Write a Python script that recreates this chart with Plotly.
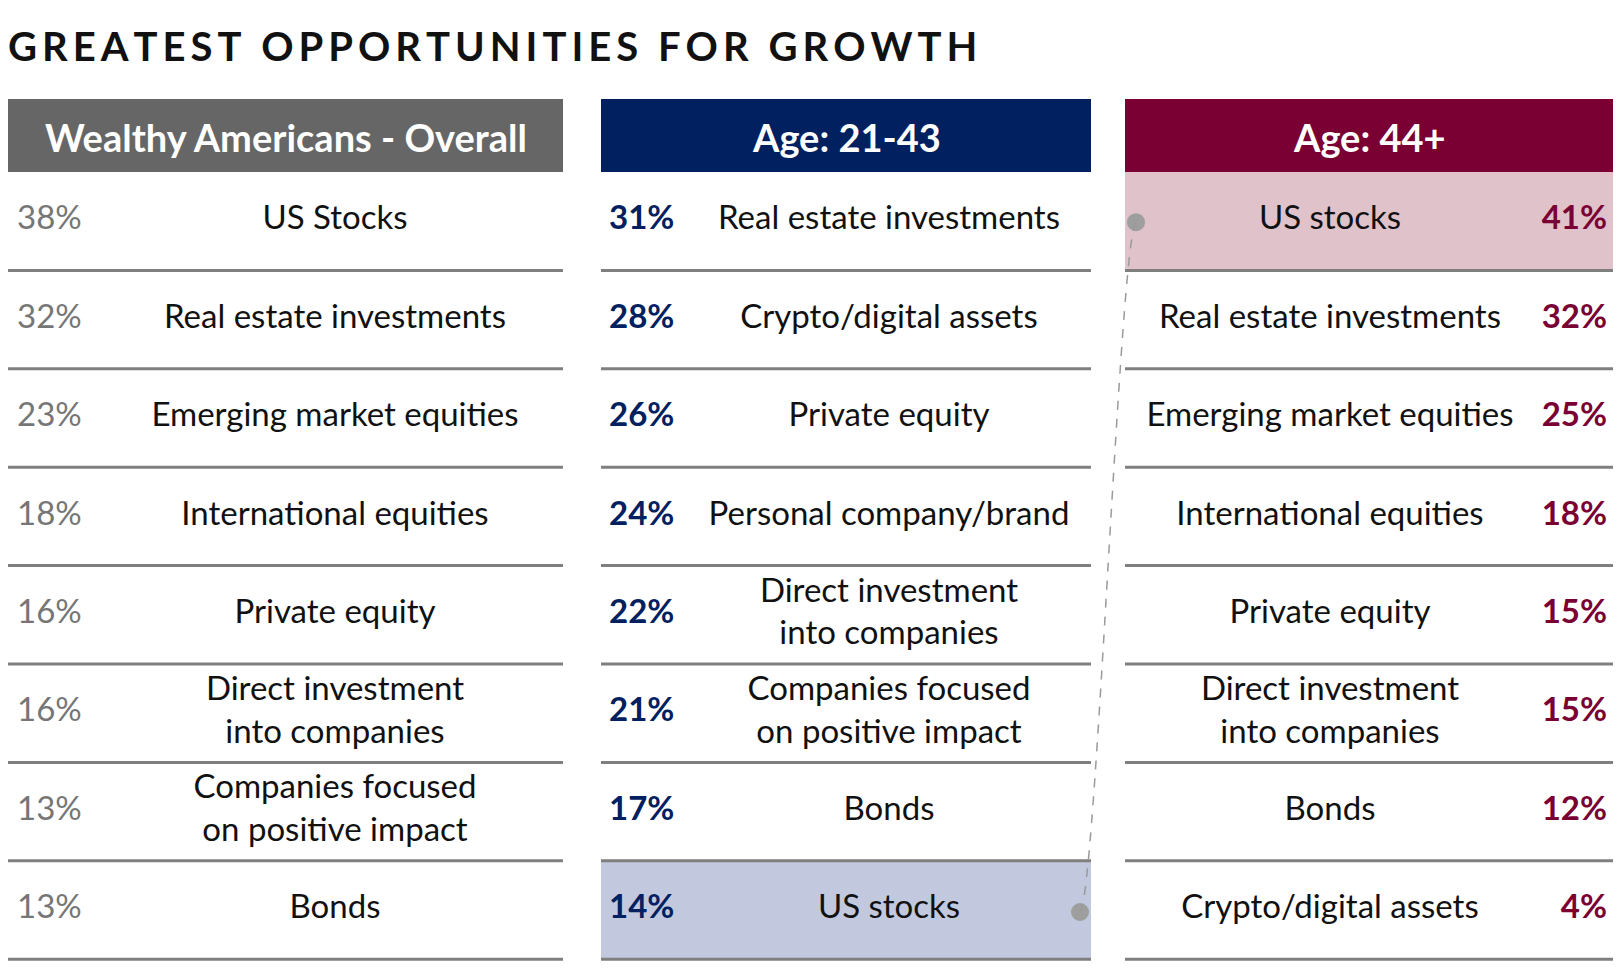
import plotly.graph_objects as go

# data
overall_labels = ["US Stocks", "Real estate investments", "Emerging market equities",
                  "International equities", "Private equity",
                  "Direct investment<br>into companies",
                  "Companies focused<br>on positive impact", "Bonds"]
overall_pct = [38, 32, 23, 18, 16, 16, 13, 13]

young_labels = ["Real estate investments", "Crypto/digital assets", "Private equity",
                "Personal company/brand", "Direct investment<br>into companies",
                "Companies focused<br>on positive impact", "Bonds", "US stocks"]
young_pct = [31, 28, 26, 24, 22, 21, 17, 14]

older_labels = ["US stocks", "Real estate investments", "Emerging market equities",
                "International equities", "Private equity",
                "Direct investment<br>into companies", "Bonds", "Crypto/digital assets"]
older_pct = [41, 32, 25, 18, 15, 15, 12, 4]

headers = ["Wealthy Americans - Overall", "Age: 21-43", "Age: 44+"]
title = "GREATEST OPPORTUNITIES FOR GROWTH"

# layout (page pixels)
W, H = 1622, 974
FONT = "Lato"
GRAY, NAVY, MAROON = "#666666", "#002060", "#7A0033"
cols = [(8, 563), (601, 1091), (1125, 1613)]
head_top, head_bot = 99, 172
row_h = 98.4
n = len(overall_pct)
centers = [head_bot + (i + 0.5) * row_h for i in range(n)]

fig = go.Figure()

# header boxes
for (x0, x1), col, txt in zip(cols, [GRAY, NAVY, MAROON], headers):
    fig.add_shape(type="rect", x0=x0, x1=x1, y0=head_top, y1=head_bot,
                  fillcolor=col, line_width=0, layer="below")
    fig.add_annotation(x=(x0 + x1) / 2, y=(head_top + head_bot) / 2 + 1, text=txt,
                       showarrow=False, font=dict(family=FONT, size=38, color="white", weight="bold"))

# highlighted cells (US stocks in the two age groups)
hi_old = older_labels.index("US stocks")
hi_young = young_labels.index("US stocks")
fig.add_shape(type="rect", x0=cols[2][0], x1=cols[2][1],
              y0=head_bot + hi_old * row_h, y1=head_bot + (hi_old + 1) * row_h,
              fillcolor="#E0C2CB", line_width=0, layer="below")
fig.add_shape(type="rect", x0=cols[1][0], x1=cols[1][1],
              y0=head_bot + hi_young * row_h, y1=head_bot + (hi_young + 1) * row_h,
              fillcolor="#C2C8DD", line_width=0, layer="below")

# row separators
for x0, x1 in cols:
    for i in range(n):
        y = head_bot + (i + 1) * row_h
        fig.add_shape(type="line", x0=x0, x1=x1, y0=y, y1=y,
                      line=dict(color="#7F7F7F", width=3))

lab_font = dict(family=FONT, size=33, color="#111111")
pct_size = 33

# column 1
fig.add_trace(go.Scatter(x=[cols[0][0] + 9] * n, y=centers, mode="text",
                         text=[f"{v}%" for v in overall_pct], textposition="middle right",
                         textfont=dict(family=FONT, size=pct_size, color="#767676")))
fig.add_trace(go.Scatter(x=[335] * n, y=centers, mode="text", text=overall_labels,
                         textposition="middle center", textfont=lab_font))

# column 2
fig.add_trace(go.Scatter(x=[cols[1][0] + 8] * n, y=centers, mode="text",
                         text=[f"{v}%" for v in young_pct], textposition="middle right",
                         textfont=dict(family=FONT, size=pct_size, color=NAVY, weight="bold")))
fig.add_trace(go.Scatter(x=[889] * n, y=centers, mode="text", text=young_labels,
                         textposition="middle center", textfont=lab_font))

# column 3
fig.add_trace(go.Scatter(x=[1330] * n, y=centers, mode="text", text=older_labels,
                         textposition="middle center", textfont=lab_font))
fig.add_trace(go.Scatter(x=[cols[2][1] - 6] * n, y=centers, mode="text",
                         text=[f"{v}%" for v in older_pct], textposition="middle left",
                         textfont=dict(family=FONT, size=pct_size, color=MAROON, weight="bold")))

# connector between the two US stocks cells
ax, ay = cols[2][0] + 11, centers[hi_old] + 1
bx, by = cols[1][1] - 11, centers[hi_young] + 2
fig.add_shape(type="path",
              path=f"M {ax},{ay} C {ax - 16},{ay + 12} {bx + 16},{by - 12} {bx},{by}",
              line=dict(color="#9A9A9A", width=1.5, dash="dash"))
fig.add_trace(go.Scatter(x=[ax, bx], y=[ay, by], mode="markers",
                         marker=dict(size=18, color="#9E9E9E")))

# title
spaced = "\u2009".join(title)
fig.add_annotation(x=6, y=46, xanchor="left", text=spaced, showarrow=False,
                   font=dict(family=FONT, size=40, color="#111111", weight="bold"))

fig.update_layout(
    width=W, height=H, margin=dict(l=0, r=0, t=0, b=0),
    paper_bgcolor="white", plot_bgcolor="white", showlegend=False,
    hovermode=False,
    xaxis=dict(range=[0, W], visible=False, fixedrange=True),
    yaxis=dict(range=[H, 0], visible=False, fixedrange=True),
)
fig.update_traces(cliponaxis=False)

fig.write_html("out.html", config={"displayModeBar": False},
               post_script="document.body.style.margin='0';")
